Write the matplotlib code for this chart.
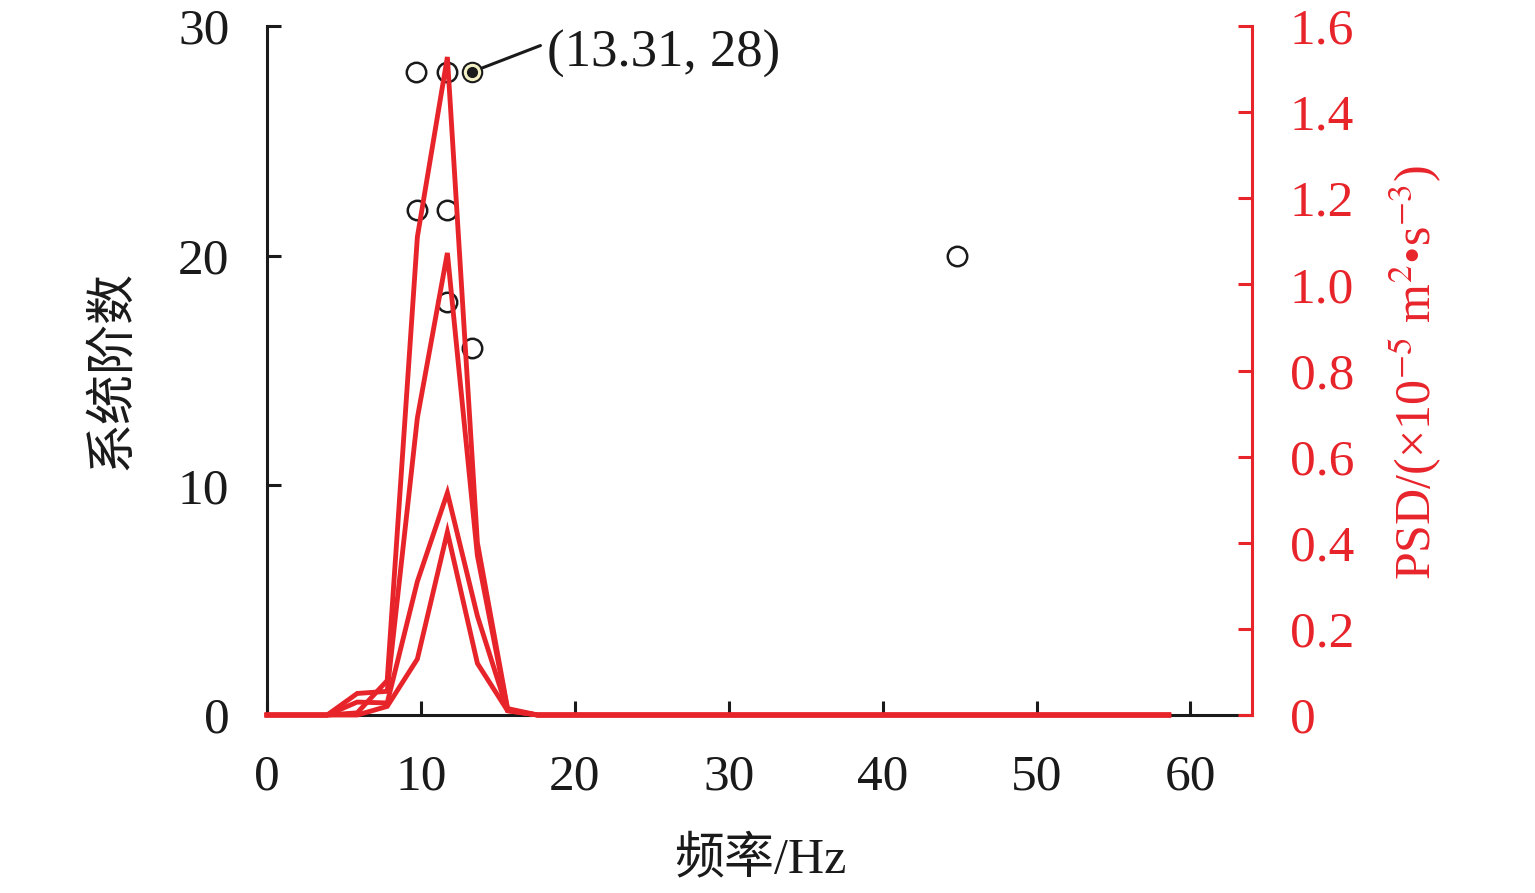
import matplotlib
matplotlib.use("Agg")
import matplotlib.pyplot as plt
from matplotlib.ticker import FuncFormatter

plt.rcParams['font.family'] = ['Liberation Serif', 'Noto Sans CJK SC', 'DejaVu Sans']
plt.rcParams['mathtext.fontset'] = 'stix'

# ---- data ----
freq = [0, 1.95, 3.91, 5.86, 7.81, 9.77, 11.72, 13.67, 15.63, 17.58, 19.53, 21.48,
        23.44, 25.39, 27.34, 29.30, 31.25, 33.20, 35.16, 37.11, 39.06, 41.02, 42.97,
        44.92, 46.88, 48.83, 50.78, 52.73, 54.69, 56.64, 58.59]
zeros_tail = [0.0] * 21
psd_1 = [0.0, 0.0, 0.0, 0.005, 0.08, 1.11, 1.528, 0.40, 0.015, 0.0] + zeros_tail
psd_2 = [0.0, 0.0, 0.0, 0.05, 0.055, 0.69, 1.073, 0.37, 0.012, 0.0] + zeros_tail
psd_3 = [0.0, 0.0, 0.0, 0.03, 0.028, 0.31, 0.516, 0.23, 0.01, 0.0] + zeros_tail
psd_4 = [0.0, 0.0, 0.0, 0.0, 0.02, 0.13, 0.425, 0.12, 0.01, 0.0] + zeros_tail
psd_series = [psd_1, psd_2, psd_3, psd_4]

pole_freq = [9.69, 11.72, 9.75, 11.72, 11.72, 13.31, 44.86]
pole_order = [28, 28, 22, 22, 18, 16, 20]
sel_freq = 13.31
sel_order = 28

x_ticks = [0, 10, 20, 30, 40, 50, 60]
y_ticks = [0, 10, 20, 30]
psd_ticks = [0, 0.2, 0.4, 0.6, 0.8, 1.0, 1.2, 1.4, 1.6]

RED = '#e8242b'
BLACK = '#1a1a1a'
FS = 37

fig = plt.figure(figsize=(15.35, 8.93), dpi=100)
ax = fig.add_axes([267/1535, 1-715/893, (1252-267)/1535, (715-26)/893])
ax2 = ax.twinx()

# scatter of stabilized poles
ax.plot(pole_freq, pole_order, linestyle='none', marker='o', markersize=14,
        markerfacecolor='none', markeredgecolor=BLACK, markeredgewidth=1.8, zorder=3)
ax.plot([sel_freq], [sel_order], linestyle='none', marker='o', markersize=14,
        markerfacecolor='#f4f1c6', markeredgecolor=BLACK, markeredgewidth=1.5, zorder=4)
ax.plot([sel_freq], [sel_order], linestyle='none', marker='o', markersize=7,
        markerfacecolor=BLACK, markeredgecolor=BLACK, zorder=5)
ax.annotate(f'({sel_freq}, {sel_order})', xy=(sel_freq, sel_order),
            xytext=(18.2, 28.8), textcoords='data', fontsize=38, color=BLACK,
            va='center', ha='left',
            arrowprops=dict(arrowstyle='-', color=BLACK, lw=2.2, shrinkA=3, shrinkB=0,
                            relpos=(0.0, 0.72)),
            annotation_clip=False)

ax.set_xlim(0, 64)
ax.set_ylim(0, 30)
ax.set_xticks(x_ticks)
ax.set_yticks(y_ticks)
for s in ['top', 'right']:
    ax.spines[s].set_visible(False)
for s in ['left', 'bottom']:
    ax.spines[s].set_color(BLACK)
    ax.spines[s].set_linewidth(2.2)
ax.tick_params(axis='both', direction='in', length=10, width=2.2, color=BLACK,
               labelsize=FS, labelcolor=BLACK)
ax.tick_params(axis='x', pad=28)
ax.tick_params(axis='y', pad=27)

# PSD curves
for s in psd_series:
    ax2.plot(freq, s, color=RED, lw=3.5, clip_on=False, solid_joinstyle='miter', zorder=6)
ax2.set_ylim(0, 1.6)
ax2.set_yticks(psd_ticks)
ax2.yaxis.set_major_formatter(FuncFormatter(lambda v, p: '0' if abs(v) < 1e-9 else f'{v:.1f}'))
for s in ['top', 'left', 'bottom']:
    ax2.spines[s].set_visible(False)
ax2.spines['right'].set_color(RED)
ax2.spines['right'].set_linewidth(2.2)
ax2.tick_params(axis='y', direction='in', length=10, width=2.2, color=RED,
                labelsize=FS, labelcolor=RED, pad=27)

# axis labels
fig.text(113/1535, 1-370/893, '系统阶数', rotation=90, ha='center', va='center',
         fontsize=36, color=BLACK)
fig.text(760/1535, 1-860/893, '频率/Hz', ha='center', va='center',
         fontsize=36, color=BLACK)
fig.text(1415/1535, 1-373/893, r'PSD/(×10$^{-5}$ m$^{2}$•s$^{-3}$)', rotation=90,
         ha='center', va='center', fontsize=36, color=RED)

fig.savefig('out.png', dpi=100)
